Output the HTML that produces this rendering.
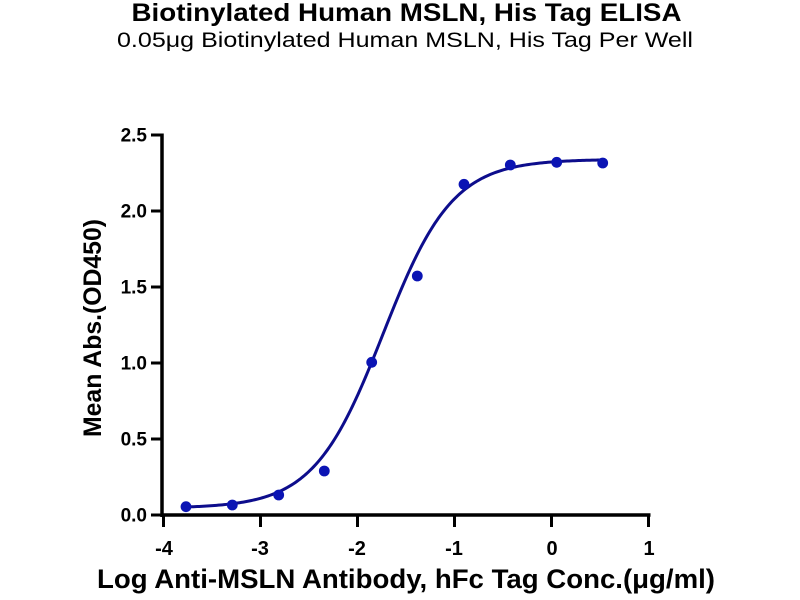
<!DOCTYPE html>
<html>
<head>
<meta charset="utf-8">
<style>
html,body{margin:0;padding:0;background:#fff;}
svg{display:block;}
text{font-family:"Liberation Sans",Arial,sans-serif;fill:#000;}
</style>
</head>
<body>
<svg width="800" height="600" viewBox="0 0 800 600" xmlns="http://www.w3.org/2000/svg">
<rect width="800" height="600" fill="#fff"/>
<!-- titles -->
<text x="406.5" y="21" font-size="25" font-weight="bold" text-anchor="middle" textLength="550" lengthAdjust="spacingAndGlyphs">Biotinylated Human MSLN, His Tag ELISA</text>
<text x="405" y="47" font-size="21" text-anchor="middle" textLength="576" lengthAdjust="spacingAndGlyphs">0.05μg Biotinylated Human MSLN, His Tag Per Well</text>

<!-- axes -->
<line x1="162" y1="133.5" x2="162" y2="517" stroke="#000" stroke-width="3.5"/>
<line x1="160.5" y1="515" x2="650.5" y2="515" stroke="#000" stroke-width="3.5"/>
<!-- ticks -->
<g stroke="#000" stroke-width="3">
<line x1="151" y1="135" x2="162" y2="135"/>
<line x1="151" y1="211" x2="162" y2="211"/>
<line x1="151" y1="287" x2="162" y2="287"/>
<line x1="151" y1="363" x2="162" y2="363"/>
<line x1="151" y1="439" x2="162" y2="439"/>
<line x1="151" y1="515" x2="162" y2="515"/>
<line x1="163.5" y1="515" x2="163.5" y2="527"/>
<line x1="260.5" y1="515" x2="260.5" y2="527"/>
<line x1="357.5" y1="515" x2="357.5" y2="527"/>
<line x1="454.5" y1="515" x2="454.5" y2="527"/>
<line x1="551.5" y1="515" x2="551.5" y2="527"/>
<line x1="648.5" y1="515" x2="648.5" y2="527"/>
</g>
<!-- y tick labels -->
<g font-size="19" font-weight="bold" text-anchor="end">
<text x="147" y="141.5">2.5</text>
<text x="147" y="217.5">2.0</text>
<text x="147" y="293.5">1.5</text>
<text x="147" y="369.5">1.0</text>
<text x="147" y="445.5">0.5</text>
<text x="147" y="521.5">0.0</text>
</g>
<!-- x tick labels -->
<g font-size="20" font-weight="bold" text-anchor="middle">
<text x="164" y="555">-4</text>
<text x="260" y="555">-3</text>
<text x="357" y="555">-2</text>
<text x="454" y="555">-1</text>
<text x="552" y="555">0</text>
<text x="649" y="555">1</text>
</g>
<!-- axis titles -->
<text x="406" y="588" font-size="27" font-weight="bold" text-anchor="middle" textLength="618" lengthAdjust="spacingAndGlyphs">Log Anti-MSLN Antibody, hFc Tag Conc.(μg/ml)</text>
<text transform="translate(101,328) rotate(-90)" x="0" y="0" font-size="25" font-weight="bold" text-anchor="middle" textLength="218" lengthAdjust="spacingAndGlyphs">Mean Abs.(OD450)</text>

<!-- curve -->
<polyline id="curve" fill="none" stroke="#0d0d8c" stroke-width="3" stroke-linejoin="round" stroke-linecap="round"
points="185.8,507.0 234.7,503.4 282.6,490.0 306.5,473.7 330.5,445.5 354.4,402.2 378.4,345.7 402.3,286.7 426.3,237.4 450.2,203.4 474.2,182.9 498.1,171.5 522.1,165.6 546,162.5 574.7,160.7 601.6,160.0"/>

<!-- points -->
<g fill="#0b14b4">
<circle cx="186" cy="506.7" r="5.4"/>
<circle cx="232.3" cy="505" r="5.4"/>
<circle cx="278.7" cy="495" r="5.4"/>
<circle cx="324.3" cy="471" r="5.4"/>
<circle cx="371.7" cy="362.3" r="5.4"/>
<circle cx="417.3" cy="276" r="5.4"/>
<circle cx="464" cy="184.3" r="5.4"/>
<circle cx="510.3" cy="165" r="5.4"/>
<circle cx="556.7" cy="162.3" r="5.4"/>
<circle cx="602.7" cy="163" r="5.4"/>
</g>
</svg>
<script>
(function(){
  try{
    var B=0.045,R=2.295,c=-1.70,h=1.2,pts=[];
    for(var x=-3.76;x<=0.581;x+=0.02){
      var y=B+R/(1+Math.pow(10,h*(c-x)));
      pts.push((546+x*95.8).toFixed(2)+","+(515-y*152).toFixed(2));
    }
    document.getElementById("curve").setAttribute("points",pts.join(" "));
  }catch(e){}
})();
</script>
</body>
</html>
